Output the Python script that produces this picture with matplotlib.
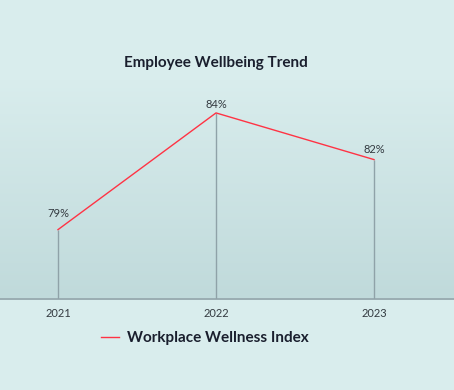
import numpy as np
import matplotlib
matplotlib.use("Agg")
import matplotlib.pyplot as plt
from matplotlib.colors import LinearSegmentedColormap

years = ["2021", "2022", "2023"]
wellness = [79, 84, 82]
labels = ["79%", "84%", "82%"]

plt.rcParams["font.family"] = ["Lato", "DejaVu Sans"]

fig = plt.figure(figsize=(4.54, 3.90), dpi=100)
fig.patch.set_facecolor("#d9eded")
ax = fig.add_axes([0.0, 1 - 298.5 / 390, 1.0, (298.5 - 80) / 390])
ax.set_facecolor("none")

# Fondo degradado del area de trazado
cmap = LinearSegmentedColormap.from_list("fondo", ["#c0dadb", "#d9eded"])
grad = np.linspace(0, 1, 256).reshape(-1, 1)
ax.imshow(grad, cmap=cmap, aspect="auto", extent=[0, 1, 0, 1],
          transform=ax.transAxes, origin="lower", zorder=0)

x = np.arange(len(years))
ax.vlines(x, 76.05, wellness, color="#8fa2a8", linewidth=1, zorder=1)
ax.plot(x, wellness, color="#ff3344", linewidth=1, zorder=2,
        label="Workplace Wellness Index")

offsets = [8, 2, 3.5]
for xi, yi, lab, off in zip(x, wellness, labels, offsets):
    ax.annotate(lab, (xi, yi), xytext=(0, off), textcoords="offset points",
                ha="center", va="bottom", fontsize=8, color="#333a40")

ax.set_xlim(-0.367, 2.506)
ax.set_ylim(76.05, 85.41)
ax.set_xticks(x)
ax.set_xticklabels(years, fontsize=8, color="#333a40")
ax.tick_params(axis="x", length=0, pad=7)
ax.set_yticks([])
for s in ["top", "left", "right"]:
    ax.spines[s].set_visible(False)
ax.spines["bottom"].set_color("#8fa2a8")
ax.spines["bottom"].set_linewidth(1.2)

fig.text(216 / 454, 1 - 63 / 390, "Employee Wellbeing Trend", ha="center",
         va="center", fontsize=11, fontweight="bold", color="#1a1f2e")

leg = fig.legend(loc="center", bbox_to_anchor=(205 / 454, 1 - 338 / 390),
                 frameon=False, fontsize=11, handlelength=1.2,
                 handletextpad=0.5)
for t in leg.get_texts():
    t.set_color("#1a1f2e")
    t.set_fontweight("bold")

fig.savefig("out.png", dpi=100)
